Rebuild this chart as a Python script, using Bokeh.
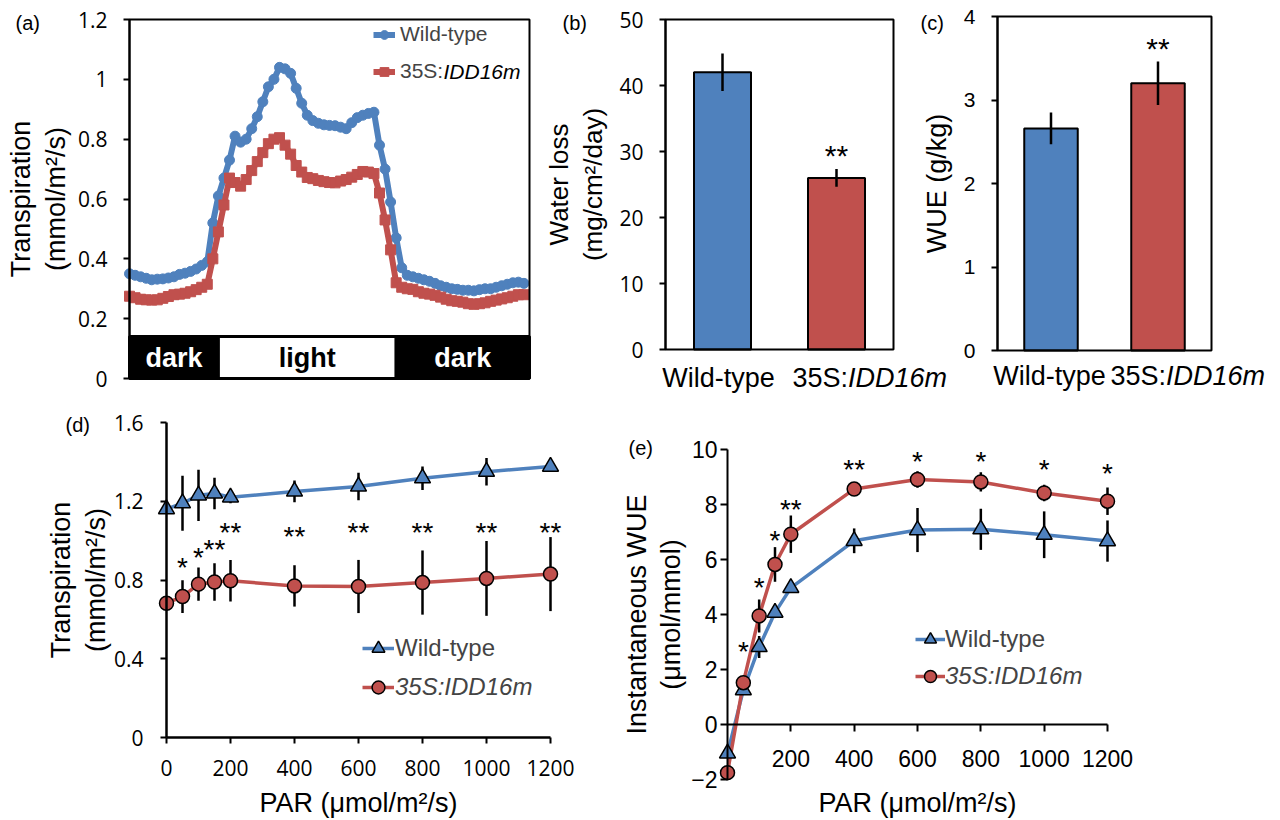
import numpy as np
from bokeh.plotting import figure
from bokeh.layouts import row, column
from bokeh.models import (ColumnDataSource, Range1d, Label, Legend, LegendItem,
                          FixedTicker, PrintfTickFormatter, LinearAxis)
from bokeh.core.properties import value
from bokeh.embed import file_html
from bokeh.resources import INLINE

BLUE = "#4F81BD"
RED = "#C0504D"
SANS = "Liberation Sans"
TICKF = "Open Sans"

# ---------------- (a) diurnal transpiration ----------------
a_step_h = 0.25
a_hours = np.arange(72) * a_step_h
a_wt = [0.350, 0.345, 0.340, 0.335,
        0.330, 0.332, 0.333, 0.336,
        0.340, 0.348, 0.352, 0.358,
        0.366, 0.378, 0.390, 0.520,
        0.610, 0.670, 0.730, 0.810,
        0.790, 0.800, 0.835, 0.875,
        0.925, 0.975, 1.000, 1.040,
        1.035, 1.020, 0.970, 0.920,
        0.880, 0.862, 0.853, 0.848,
        0.846, 0.845, 0.840, 0.835,
        0.855, 0.872, 0.880, 0.886,
        0.890, 0.780, 0.700, 0.590,
        0.470, 0.370, 0.345, 0.340,
        0.335, 0.330, 0.325, 0.318,
        0.310, 0.305, 0.300, 0.298,
        0.295, 0.295, 0.293, 0.297,
        0.300, 0.300, 0.305, 0.310,
        0.315, 0.320, 0.322, 0.318]
a_idd = [0.275, 0.270, 0.265, 0.263,
         0.262, 0.263, 0.268, 0.274,
         0.280, 0.282, 0.285, 0.290,
         0.297, 0.305, 0.315, 0.400,
         0.490, 0.580, 0.670, 0.655,
         0.643, 0.665, 0.695, 0.725,
         0.755, 0.785, 0.800, 0.805,
         0.780, 0.750, 0.712, 0.690,
         0.672, 0.668, 0.662, 0.658,
         0.655, 0.654, 0.660, 0.665,
         0.673, 0.682, 0.692, 0.690,
         0.685, 0.620, 0.530, 0.430,
         0.320, 0.305, 0.300, 0.298,
         0.290, 0.285, 0.282, 0.278,
         0.272, 0.265, 0.260, 0.258,
         0.255, 0.250, 0.248, 0.250,
         0.253, 0.258, 0.262, 0.266,
         0.270, 0.275, 0.280, 0.280]
a_xlim = [0, 18]
a_ylim = [0, 1.2]
a_phase_start = [0, 4, 12]
a_phase_end = [4, 12, 18]
a_phase_name = ["dark", "light", "dark"]
a_phase_fill = ["black", "white", "black"]
a_phase_textcol = ["white", "black", "white"]
a_band_top = 0.14
a_yticks = [0, 0.2, 0.4, 0.6, 0.8, 1.0, 1.2]

# ---------------- (b), (c) bars ----------------
bar_prefix = ["Wild-type", "35S:"]
bar_italic = ["", "IDD16m"]
b_water_loss = [42.0, 26.0]
b_water_loss_err = [2.85, 1.35]
b_stars = ["", "**"]
b_star_y = [0.0, 29.8]
b_yticks = [0, 10, 20, 30, 40, 50]

c_wue = [2.66, 3.20]
c_wue_err = [0.19, 0.26]
c_stars = ["", "**"]
c_star_y = [0.0, 3.65]
c_yticks = [0, 1, 2, 3, 4]

# ---------------- (d), (e) light response ----------------
par = [0, 50, 100, 150, 200, 400, 600, 800, 1000, 1200]
d_wt = [1.16, 1.19, 1.23, 1.24, 1.22, 1.25, 1.275, 1.317, 1.35, 1.376]
d_wt_err = [0.02, 0.14, 0.13, 0.08, 0.03, 0.055, 0.07, 0.06, 0.07, 0.02]
d_idd = [0.682, 0.716, 0.779, 0.79, 0.796, 0.77, 0.767, 0.787, 0.808, 0.83]
d_idd_err = [0.03, 0.083, 0.085, 0.095, 0.105, 0.105, 0.135, 0.163, 0.19, 0.188]
d_stars = ["", "*", "*", "**", "**", "**", "**", "**", "**", "**"]
d_star_y = [0, 0.88, 0.928, 0.97, 1.058, 1.036, 1.058, 1.058, 1.058, 1.058]
d_xticks = [0, 200, 400, 600, 800, 1000, 1200]
d_yticks = [0, 0.4, 0.8, 1.2, 1.6]

e_wt = [-1.05, 1.25, 2.82, 4.07, 4.97, 6.68, 7.07, 7.10, 6.90, 6.67]
e_wt_err = [0.1, 0.1, 0.4, 0.2, 0.15, 0.45, 0.8, 0.75, 0.85, 0.75]
e_idd = [-1.75, 1.52, 3.95, 5.82, 6.92, 8.56, 8.91, 8.82, 8.42, 8.12]
e_idd_err = [0.1, 0.1, 0.6, 0.63, 0.68, 0.1, 0.3, 0.35, 0.3, 0.5]
e_stars = ["", "*", "*", "*", "**", "**", "*", "*", "*", "*"]
e_star_y = [0, 2.76, 5.1, 6.8, 7.92, 9.37, 9.67, 9.67, 9.39, 9.22]
e_xticks = [200, 400, 600, 800, 1000, 1200]
e_yticks = [-2, 0, 2, 4, 6, 8, 10]

STAR_YOFF = 3


# ---------------- helpers ----------------
def lin_range(v0, p0, v1, p1, size):
    """Range so that value v0 sits at pixel p0 and v1 at pixel p1 (0..size)."""
    s = (p1 - p0) / (v1 - v0)
    a = v0 - p0 / s
    b = v0 + (size - p0) / s
    return Range1d(min(a, b), max(a, b))


class Box:
    def __init__(self, ox, oy, w, h):
        self.ox, self.oy, self.w, self.h = ox, oy, w, h

    def sx(self, px):
        return px - self.ox

    def sy(self, py):
        return self.oy + self.h - py

    def xr(self, xmap):
        v0, p0, v1, p1 = xmap
        return lin_range(v0, p0 - self.ox, v1, p1 - self.ox, self.w)

    def yr(self, ymap):
        v0, p0, v1, p1 = ymap
        return lin_range(v0, p0 - self.oy, v1, p1 - self.oy, self.h)


def make_fig(box, xmap, ymap):
    p = figure(width=box.w, height=box.h, x_range=box.xr(xmap), y_range=box.yr(ymap),
               min_border=0, output_backend="svg", toolbar_location=None)
    p.grid.visible = False
    p.outline_line_color = None
    p.background_fill_color = "white"
    p.border_fill_color = "white"
    return p


def style_axis(ax, tick_font, tick_size, tick_out, tick_standoff, label_size,
               label_standoff, width=2):
    ax.axis_line_color = "black"
    ax.axis_line_width = width
    ax.major_tick_line_color = "black"
    ax.major_tick_line_width = 2
    ax.major_tick_out = tick_out
    ax.major_tick_in = 0
    ax.minor_tick_line_color = None
    ax.major_label_text_font = tick_font
    ax.major_label_text_font_size = tick_size
    ax.major_label_text_color = "black"
    ax.major_label_standoff = tick_standoff
    ax.axis_label_text_font = SANS
    ax.axis_label_text_font_size = label_size
    ax.axis_label_text_font_style = "normal"
    ax.axis_label_text_color = "black"
    ax.axis_label_standoff = label_standoff
    ax.axis_label_text_line_height = 1.15


def text_label(p, box, text, px, py, size="20px", style="normal", align="left"):
    p.add_layout(Label(x=box.sx(px), y=box.sy(py), x_units="screen", y_units="screen",
                       text=text, text_font=SANS, text_font_size=size,
                       text_font_style=style, text_color="black",
                       text_align=align, text_baseline="middle"))


def add_stars(p, xs, ys, stars, size, rn="default"):
    idx = [i for i, s in enumerate(stars) if s]
    src = ColumnDataSource(dict(x=[xs[i] for i in idx], y=[ys[i] for i in idx],
                                t=[stars[i] for i in idx]))
    p.text(x="x", y="y", text="t", source=src, text_font=value(SANS),
           text_font_size=size, text_color="black", text_align="center",
           text_baseline="alphabetic", y_offset=STAR_YOFF,
           x_range_name=rn, y_range_name=rn)


# ======================= panel (a) =======================
BA = Box(0, 0, 540, 396)
pa = make_fig(BA, (a_xlim[0], 129, a_xlim[1], 529), (a_ylim[0], 378, a_ylim[1], 19))
pa.xaxis.visible = False
ya = pa.yaxis[0]
style_axis(ya, TICKF, "21px", 6, 16, "27px", 4)
ya.fixed_location = a_xlim[0]
ya.bounds = tuple(a_ylim)
ya.ticker = FixedTicker(ticks=a_yticks)
ya.formatter = PrintfTickFormatter(format="%g")
ya.axis_label = "Transpiration\n(mmol/m\u00b2/s)"

src_a = ColumnDataSource(dict(t=a_hours, wt=a_wt, idd=a_idd))
la1 = pa.line("t", "wt", source=src_a, line_color=BLUE, line_width=6)
sa1 = pa.scatter("t", "wt", source=src_a, marker="circle", size=10,
                 fill_color=BLUE, line_color=BLUE)
la2 = pa.line("t", "idd", source=src_a, line_color=RED, line_width=6)
sa2 = pa.scatter("t", "idd", source=src_a, marker="square", size=10,
                 fill_color=RED, line_color=RED)

band = ColumnDataSource(dict(
    left=a_phase_start, right=a_phase_end, fill=a_phase_fill, tcol=a_phase_textcol,
    mid=[(s + e) / 2 for s, e in zip(a_phase_start, a_phase_end)], name=a_phase_name))
pa.quad(left="left", right="right", bottom=a_ylim[0], top=a_band_top, fill_color="fill",
        line_color="black", line_width=3, source=band)
pa.text(x="mid", y=a_band_top / 2, text="name", text_color="tcol", source=band,
        text_font=value(SANS), text_font_style="bold", text_font_size="27px",
        text_align="center", text_baseline="middle")
pa.quad(left=[a_xlim[0]], right=[a_xlim[1]], bottom=[a_ylim[0]], top=[a_ylim[1]],
        fill_alpha=0, line_color="black", line_width=2)

leg_a = Legend(items=[LegendItem(label="Wild-type", renderers=[la1, sa1]),
                      LegendItem(label="35S:", renderers=[la2, sa2])],
               location=(BA.sx(373), BA.sy(89.5)), orientation="vertical", padding=0,
               margin=0, spacing=0, glyph_width=22, glyph_height=37, label_height=37,
               label_standoff=5, label_text_font=SANS, label_text_font_size="21px",
               border_line_color=None, background_fill_alpha=0)
pa.add_layout(leg_a)
text_label(pa, BA, "(a)", 15, 22)
text_label(pa, BA, "IDD16m", 443, 71, size="21px", style="italic")


# ======================= bar panels (b) and (c) share one canvas =======================
BBC = Box(540, 0, 735, 396)
pbc = make_fig(BBC, (0, 665, 2, 893), (0, 349, 50, 19))
pbc.xaxis.visible = False
pbc.extra_x_ranges = {"c": BBC.xr((0, 997, 2, 1211))}
pbc.extra_y_ranges = {"c": BBC.yr((0, 350, 4, 16))}


def bar_panel(p, box, rn, ax, ymax, means, errs, stars, star_y, yticks, ylabel,
              title_size, label_standoff, tick_font, lab_py, offs):
    ncat = len(means)
    style_axis(ax, tick_font, "21px", 6, 16, title_size, label_standoff)
    ax.fixed_location = 0
    ax.bounds = (0, ymax)
    ax.ticker = FixedTicker(ticks=yticks)
    ax.axis_label = ylabel
    xs = [i + 0.5 for i in range(ncat)]
    rr = dict(x_range_name=rn, y_range_name=rn)
    p.vbar(x=xs, top=means, width=0.5, fill_color=[BLUE, RED], line_color="black",
           line_width=2, **rr)
    p.segment(x0=xs, x1=xs, y0=[m - e for m, e in zip(means, errs)],
              y1=[m + e for m, e in zip(means, errs)], line_color="black",
              line_width=2.5, **rr)
    p.quad(left=[0], right=[ncat], bottom=[0], top=[ymax], fill_alpha=0,
           line_color="black", line_width=2, **rr)
    add_stars(p, xs, star_y, stars, "30px", rn)
    for i, x in enumerate(xs):
        o_main, o_it = offs[i]
        common = dict(x=x, y=box.sy(lab_py), x_units="data", y_units="screen",
                      x_range_name=rn, y_range_name=rn,
                      text_font=SANS, text_font_size="27px", text_color="black",
                      text_baseline="middle")
        if bar_italic[i]:
            p.add_layout(Label(x_offset=o_main, text=bar_prefix[i], text_align="left",
                               **common))
            p.add_layout(Label(x_offset=o_it, text=bar_italic[i], text_align="left",
                               text_font_style="italic", **common))
        else:
            p.add_layout(Label(x_offset=o_main, text=bar_prefix[i], text_align="center",
                               **common))


yb = pbc.yaxis[0]
bar_panel(pbc, BBC, "default", yb, 50, b_water_loss, b_water_loss_err, b_stars,
          b_star_y, b_yticks, "Water loss\n(mg/cm\u00b2/day)", "26px", 8, TICKF,
          377, [(-4, 0), (-44, 11.5)])
yc = LinearAxis(x_range_name="c", y_range_name="c")
pbc.add_layout(yc, "left")
bar_panel(pbc, BBC, "c", yc, 4, c_wue, c_wue_err, c_stars, c_star_y,
          c_yticks, "WUE (g/kg)", "27px", 9, SANS, 375, [(-1.5, 0), (-47.5, 8)])
text_label(pbc, BBC, "(b)", 562, 22)
text_label(pbc, BBC, "(c)", 920, 22)


# ======================= line panels =======================
def response_panel(p, box, wt, wt_err, idd, idd_err, stars, star_y, leg_wt, leg_idd,
                   glyph_w, standoff):
    src = ColumnDataSource(dict(
        x=par, wt=wt, idd=idd,
        wlo=[v - e for v, e in zip(wt, wt_err)], whi=[v + e for v, e in zip(wt, wt_err)],
        ilo=[v - e for v, e in zip(idd, idd_err)],
        ihi=[v + e for v, e in zip(idd, idd_err)]))
    lw = p.line("x", "wt", source=src, line_color=BLUE, line_width=3.5)
    li = p.line("x", "idd", source=src, line_color=RED, line_width=3.5)
    p.segment(x0="x", x1="x", y0="wlo", y1="whi", source=src, line_color="black",
              line_width=2.5)
    p.segment(x0="x", x1="x", y0="ilo", y1="ihi", source=src, line_color="black",
              line_width=2.5)
    mw = p.scatter("x", "wt", source=src, marker="triangle", size=16, fill_color=BLUE,
                   line_color="black", line_width=1.5)
    mi = p.scatter("x", "idd", source=src, marker="circle", size=14, fill_color=RED,
                   line_color="black", line_width=1.5)
    add_stars(p, par, star_y, stars, "28px")
    common = dict(orientation="vertical", padding=0, margin=0, spacing=0,
                  glyph_width=glyph_w, glyph_height=38, label_height=38,
                  label_standoff=standoff, label_text_font=SANS,
                  label_text_font_size="24px", border_line_color=None,
                  background_fill_alpha=0)
    p.add_layout(Legend(items=[LegendItem(label="Wild-type", renderers=[lw, mw])],
                        location=(box.sx(leg_wt[0]), box.sy(leg_wt[1] + 19)), **common))
    p.add_layout(Legend(items=[LegendItem(label="35S:IDD16m", renderers=[li, mi])],
                        location=(box.sx(leg_idd[0]), box.sy(leg_idd[1] + 19)),
                        label_text_font_style="italic", **common))


# (d)
BD = Box(0, 396, 620, 422)
pdd = make_fig(BD, (0, 166, 1200, 550), (0, 737, 1.6, 422))
xd = pdd.xaxis[0]
style_axis(xd, TICKF, "21px", 6, 16, "27px", 9, width=2.5)
xd.fixed_location = 0
xd.bounds = (0, 1200)
xd.ticker = FixedTicker(ticks=d_xticks)
xd.axis_label = "PAR (\u03bcmol/m\u00b2/s)"
ydd = pdd.yaxis[0]
style_axis(ydd, TICKF, "21px", 6, 17, "27px", 0, width=2.5)
ydd.fixed_location = 0
ydd.bounds = (0, 1.6)
ydd.ticker = FixedTicker(ticks=d_yticks)
ydd.formatter = PrintfTickFormatter(format="%g")
ydd.axis_label = "Transpiration\n(mmol/m\u00b2/s)"
response_panel(pdd, BD, d_wt, d_wt_err, d_idd, d_idd_err, d_stars, d_star_y,
               (362, 648), (362, 687), 32, 1)
text_label(pdd, BD, "(d)", 65, 424)

# (e)
BE = Box(620, 396, 655, 422)
pe = make_fig(BE, (0, 727, 1200, 1107), (-2, 779, 10, 449))
xe = pe.xaxis[0]
style_axis(xe, SANS, "23px", 7, 18, "27px", 18)
xe.fixed_location = 0
xe.bounds = (0, 1200)
xe.ticker = FixedTicker(ticks=e_xticks)
xe.axis_label = "PAR (\u03bcmol/m\u00b2/s)"
ye = pe.yaxis[0]
style_axis(ye, SANS, "23px", 7, 3, "27px", 2)
ye.fixed_location = 0
ye.bounds = (-2, 10)
ye.ticker = FixedTicker(ticks=e_yticks)
ye.major_label_overrides = {-2: "\u22122"}
ye.axis_label = "Instantaneous WUE\n(\u03bcmol/mmol)"
response_panel(pe, BE, e_wt, e_wt_err, e_idd, e_idd_err, e_stars, e_star_y,
               (915, 639), (915, 676), 30, 0)
text_label(pe, BE, "(e)", 628, 447)

layout = column(row(pa, pbc), row(pdd, pe))
open("out.html", "w").write(file_html(layout, INLINE, "Transpiration and WUE"))
